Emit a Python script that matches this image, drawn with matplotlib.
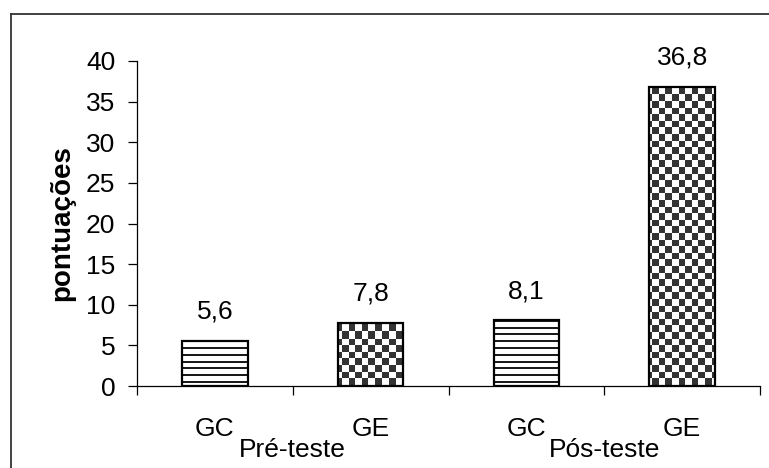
import numpy as np
import matplotlib
matplotlib.use("Agg")
import matplotlib.pyplot as plt
from matplotlib.lines import Line2D

# ---- data ----
groups = ["GC", "GE", "GC", "GE"]
phases = ["Pré-teste", "Pós-teste"]
values = [5.6, 7.8, 8.1, 36.8]
yticks = [0, 5, 10, 15, 20, 25, 30, 35, 40]
ylabel = "pontuações"

plt.rcParams['font.family'] = ['Liberation Sans', 'DejaVu Sans']

W, H, DPI = 769, 468, 100
FS = 19
fig = plt.figure(figsize=(W / DPI, H / DPI), dpi=DPI)
L, R, T, B = 137, 760, 61, 386
ax = fig.add_axes([L / W, 1 - B / H, (R - L) / W, (B - T) / H])

n = len(values)
xs = np.arange(n)
ax.set_xlim(-0.5, n - 0.5)
ax.set_ylim(0, 40)

bars = ax.bar(xs, values, width=0.42, facecolor='white', edgecolor='black',
              linewidth=1.6, zorder=3)

# textures (pixel-based) clipped to bars
pw, ph = R - L, B - T
jj, ii = np.mgrid[0:ph, 0:pw]
sq = 6.6
checker = ((np.floor(ii / sq) + np.floor(jj / sq)) % 2 == 0)
lines = (np.mod(jj, 6.8) < 2.0)

def texture(mask, dark):
    img = np.ones((ph, pw, 4))
    c = np.array(matplotlib.colors.to_rgba(dark))
    img[mask] = c
    return img

tex_lines = texture(lines, '#1a1a1a')
tex_check = texture(checker, '#333333')
for b, g in zip(bars, groups):
    tex = tex_lines if g == "GC" else tex_check
    im = ax.imshow(tex, extent=(-0.5, n - 0.5, 0, 40), aspect='auto',
                   interpolation='nearest', zorder=2.5, origin='upper')
    im.set_clip_path(b)

for b in bars:
    b.set_zorder(4)
    b.set_facecolor('none')

# value labels
for x, v in zip(xs, values):
    ax.annotate(f"{v:.1f}".replace('.', ','), (x, v), xytext=(0, 22),
                textcoords='offset pixels', ha='center', va='baseline',
                fontsize=FS)

for s in ['top', 'right']:
    ax.spines[s].set_visible(False)
for s in ['left', 'bottom']:
    ax.spines[s].set_linewidth(0.9)

ax.set_yticks(yticks)
ax.set_yticklabels([str(t) for t in yticks], fontsize=FS)
ax.tick_params(axis='y', direction='out', length=6.5, width=0.9, pad=9)

ax.set_xticks(np.arange(-0.5, n, 1.0))
ax.set_xticklabels([])
ax.tick_params(axis='x', direction='out', length=6.5, width=0.9)

for x, g in zip(xs, groups):
    ax.annotate(g, (x, 0), xycoords=('data', 'axes fraction'), xytext=(0, -50),
                textcoords='offset pixels', ha='center', va='baseline',
                fontsize=FS, annotation_clip=False)
for k, p in enumerate(phases):
    ax.annotate(p, (2 * k + 0.5, 0), xycoords=('data', 'axes fraction'),
                xytext=(0, -71), textcoords='offset pixels', ha='center',
                va='baseline', fontsize=FS, annotation_clip=False)

fig.text(62 / W, 1 - 223.5 / H, ylabel, rotation=90, ha='center', va='center',
         fontsize=20, fontweight='bold')

# outer border (top and left)
fig.add_artist(Line2D([11 / W, 1], [1 - 14 / H, 1 - 14 / H],
                      transform=fig.transFigure, color='#333333', linewidth=1.3))
fig.add_artist(Line2D([11 / W, 11 / W], [0, 1 - 14 / H],
                      transform=fig.transFigure, color='#333333', linewidth=1.3))

fig.savefig("out.png", dpi=DPI)
